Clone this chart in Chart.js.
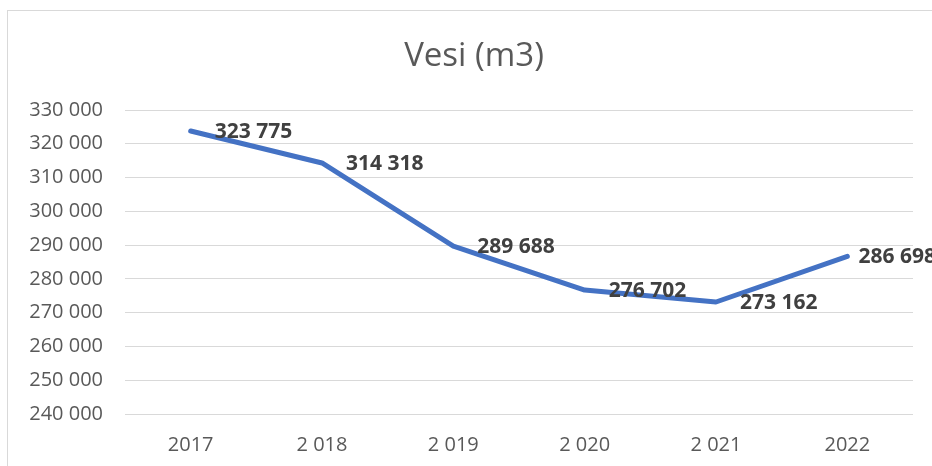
<!DOCTYPE html>
<html>
<head>
<meta charset="utf-8">
<script src="https://cdn.jsdelivr.net/npm/chart.js@4/dist/chart.umd.min.js"></script>
<style>
html,body{margin:0;padding:0;background:#fff;overflow:hidden;}
#wrap{position:absolute;left:0;top:0;width:932px;height:466px;}
</style>
</head>
<body>
<div id="wrap"><canvas id="c" width="932" height="466"></canvas></div>
<script>
const categories = ["2017", "2 018", "2 019", "2 020", "2 021", "2022"];
const values = [323775, 314318, 289688, 276702, 273162, 286698];
const titleText = "Vesi (m3)";
const yMin = 240000, yMax = 330000, yStep = 10000;

function fmt(v){
  return String(Math.round(v)).replace(/\B(?=(\d{3})+(?!\d))/g, " ");
}

const frame = {
  id: 'frame',
  beforeDraw(chart){
    const ctx = chart.ctx;
    ctx.save();
    ctx.fillStyle = '#ffffff';
    ctx.fillRect(0,0,chart.width,chart.height);
    ctx.strokeStyle = '#d9d9d9';
    ctx.lineWidth = 1;
    ctx.strokeRect(7.5, 10.5, 2000, 2000);
    // chart title, centred on the (wider) chart frame that starts at x=8
    ctx.font = '33px "Open Sans"';
    ctx.fillStyle = '#595959';
    ctx.textAlign = 'center';
    ctx.textBaseline = 'middle';
    ctx.fillText(titleText, 474, 57);
    ctx.restore();
  }
};

const dataLabels = {
  id: 'dataLabels',
  afterDatasetsDraw(chart){
    const ctx = chart.ctx;
    const meta = chart.getDatasetMeta(0);
    ctx.save();
    ctx.font = 'bold 21px "Open Sans"';
    ctx.fillStyle = '#404040';
    ctx.textAlign = 'left';
    ctx.textBaseline = 'middle';
    meta.data.forEach((pt, i) => {
      const txt = fmt(chart.data.datasets[0].data[i]);
      const w = ctx.measureText(txt).width;
      const x = Math.min(pt.x + 24, 936 - w);
      ctx.fillText(txt, x, pt.y + 1);
    });
    ctx.restore();
  }
};

new Chart(document.getElementById('c'), {
  type: 'line',
  data: {
    labels: categories,
    datasets: [{
      data: values,
      borderColor: '#4472C4',
      borderWidth: 5,
      borderCapStyle: 'round',
      borderJoinStyle: 'round',
      pointRadius: 0,
      tension: 0,
      fill: false
    }]
  },
  options: {
    responsive: false,
    animation: false,
    devicePixelRatio: 1,
    layout: { padding: { left: 0, right: 19, top: 110, bottom: 0 } },
    plugins: {
      legend: { display: false },
      tooltip: { enabled: false },
      title: { display: false }
    },
    scales: {
      x: {
        offset: true,
        grid: { display: false, drawTicks: false },
        border: { display: false },
        ticks: { color: '#595959', font: { family: '"Open Sans"', size: 20 }, padding: 19, maxRotation: 0 },
        afterFit(s){ s.height = 52; }
      },
      y: {
        min: yMin, max: yMax,
        grid: { color: '#d9d9d9', lineWidth: 1, drawTicks: false },
        border: { display: false },
        ticks: {
          stepSize: yStep,
          color: '#595959',
          font: { family: '"Open Sans"', size: 20 },
          padding: 22,
          callback: v => fmt(v)
        },
        afterFit(s){ s.width = 125; }
      }
    }
  },
  plugins: [frame, dataLabels]
});
</script>
</body>
</html>
